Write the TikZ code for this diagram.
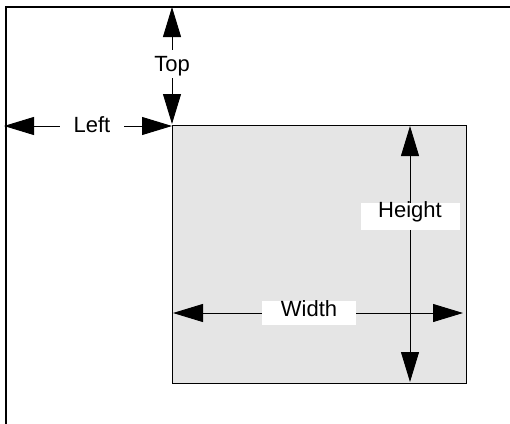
\documentclass[tikz,border=0pt]{standalone}
\usepackage{fontspec}
\setmainfont{Liberation Sans}
\usetikzlibrary{arrows.meta}
\tikzset{
  frameline/.style={line width=1.3pt, line cap=rect},
  areabox/.style={draw, line width=1.2pt, fill=black!10},
  dimarrow/.style={line width=0.9pt, -{Triangle[length=30pt,width=18pt]}},
  dimlabel/.style={fill=white, inner sep=0pt, font=\fontsize{22}{24}\selectfont},
}
\begin{document}
\begin{tikzpicture}[x=1pt,y=-1pt]
\useasboundingbox (0,0) rectangle (510,423);
% outer frame
\coordinate (fo) at (6,7);
\coordinate (fr) at (510,7);
\coordinate (fb) at (6,423);
\draw[frameline] (fr) -- (fo) -- (fb);
% area
\node[areabox, anchor=north west, minimum width=294, minimum height=258, inner sep=0pt] (area) at (172,125) {};
% tips
\coordinate (lefttipL) at (4,126);
\coordinate (lefttipR) at (172,126);
\coordinate (toptipT) at (172,7);
\coordinate (toptipB) at (172,124);
\coordinate (htipT) at (410,126);
\coordinate (htipB) at (410,382);
\coordinate (wtipL) at (173,313);
\coordinate (wtipR) at (463,313);
% labels
\node[dimlabel, minimum width=64, text height=21, text depth=9] (leftlbl) at (92,126) {Left};
\node[dimlabel, minimum width=40, text height=21, text depth=7] (toplbl) at (172,64) {Top};
\node[dimlabel, minimum width=99, text height=14.5, text depth=12.5] (hlbl) at (410,216.5) {Height};
\node[dimlabel, minimum width=94, text height=15, text depth=9] (wlbl) at (309,313) {Width};
% arrows
\draw[dimarrow] (leftlbl.west) -- (lefttipL);
\draw[dimarrow] (leftlbl.east) -- (lefttipR);
\draw[dimarrow] (toplbl.north) -- (toptipT);
\draw[dimarrow] (toplbl.south) -- (toptipB);
\draw[dimarrow] (hlbl.north -| htipT) -- (htipT);
\draw[dimarrow] (hlbl.south -| htipB) -- (htipB);
\draw[dimarrow] (wlbl.west) -- (wtipL);
\draw[dimarrow] (wlbl.east) -- (wtipR);
\end{tikzpicture}
\end{document}
